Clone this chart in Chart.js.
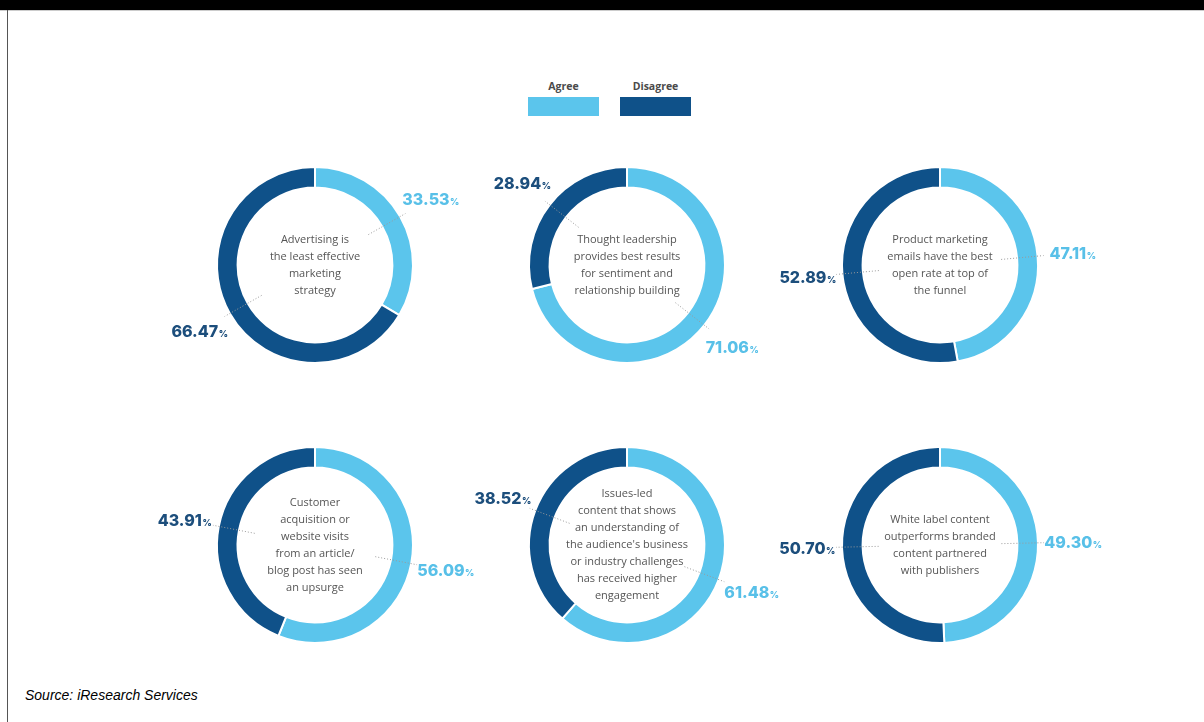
<!DOCTYPE html>
<html>
<head>
<meta charset="utf-8">
<script src="https://cdn.jsdelivr.net/npm/chart.js@4/dist/chart.umd.min.js"></script>
<style>
  body { margin:0; background:#fff; width:1204px; height:722px; position:relative; overflow:hidden; font-family:"Open Sans", sans-serif; }
  #topbar { position:absolute; left:0; top:0; width:1204px; height:10px; background:#000; border-bottom:1px solid #ccc; }
  #leftline { position:absolute; left:7px; top:10px; width:1px; height:712px; background:#555; }
  .legend { position:absolute; top:79px; font-size:10.5px; font-weight:700; color:#4a4a4a; text-align:center; }
  .legend .sw { width:71px; height:19px; margin-top:4px; }
  .donut { position:absolute; width:330px; height:260px; }
  #source { position:absolute; left:25px; top:687px; font-family:"Liberation Sans", Arial, sans-serif; font-style:italic; font-size:14px; color:#000; }
</style>
</head>
<body>
<div id="topbar"></div>
<div id="leftline"></div>
<div class="legend" style="left:528px"><div>Agree</div><div class="sw" style="background:#5BC5EC"></div></div>
<div class="legend" style="left:620px"><div>Disagree</div><div class="sw" style="background:#0F5189"></div></div>
<div id="charts"></div>
<div id="source">Source: iResearch Services</div>
<script>
const categories = ["Agree", "Disagree"]
const agree = [33.53, 71.06, 47.11, 56.09, 61.48, 49.30]
const disagree = [66.47, 28.94, 52.89, 43.91, 38.52, 50.70]
const statements = [
    ["Advertising is", "the least effective", "marketing", "strategy"],
    ["Thought leadership", "provides best results", "for sentiment and", "relationship building"],
    ["Product marketing", "emails have the best", "open rate at top of", "the funnel"],
    ["Customer", "acquisition or", "website visits", "from an article/", "blog post has seen", "an upsurge"],
    ["Issues-led", "content that shows", "an understanding of", "the audience's business", "or industry challenges", "has received higher", "engagement"],
    ["White label content", "outperforms branded", "content partnered", "with publishers"]
]

const colors = ["#5BC5EC", "#0F5189"]
const labelColors = ["#58C0E8", "#1C4E7C"]
const centersX = [315, 627, 940]
const centersY = [265, 545]

const labelPlugin = {
    id: "donutLabels",
    afterDatasetsDraw(chart) {
        const ctx = chart.ctx
        const meta = chart.getDatasetMeta(0)
        const values = chart.data.datasets[0].data
        ctx.save()
        meta.data.forEach((arc, i) => {
            const mid = (arc.startAngle + arc.endAngle) / 2
            const cos = Math.cos(mid), sin = Math.sin(mid)
            // dotted leader
            ctx.strokeStyle = "#9a9a9a"
            ctx.lineWidth = 1
            ctx.setLineDash([1, 2])
            ctx.beginPath()
            ctx.moveTo(arc.x + cos * (arc.innerRadius - 16), arc.y + sin * (arc.innerRadius - 16))
            ctx.lineTo(arc.x + cos * (arc.outerRadius + 6), arc.y + sin * (arc.outerRadius + 6))
            ctx.stroke()
            ctx.setLineDash([])
            // label
            const d = arc.outerRadius + 35
            const lx = arc.x + cos * d, ly = arc.y + sin * d
            const num = values[i].toFixed(2)
            ctx.font = "800 16px Inter"
            const w1 = ctx.measureText(num).width
            ctx.font = "800 9px Inter"
            const w2 = ctx.measureText("%").width
            const start = lx - (w1 + w2) / 2
            ctx.fillStyle = labelColors[i]
            ctx.textBaseline = "alphabetic"
            ctx.textAlign = "left"
            ctx.font = "800 16px Inter"
            ctx.fillText(num, start, ly + 6)
            ctx.font = "800 9px Inter"
            ctx.fillText("%", start + w1 + 0.5, ly + 6)
        })
        // center text
        const lines = chart.options.plugins.centerText.lines
        const cx = meta.data[0].x, cy = meta.data[0].y
        ctx.fillStyle = "#555"
        ctx.font = "11px 'Open Sans'"
        ctx.textAlign = "center"
        ctx.textBaseline = "middle"
        const lh = 17
        lines.forEach((t, k) => {
            ctx.fillText(t, cx, cy + (k - (lines.length - 1) / 2) * lh)
        })
        ctx.restore()
    }
}

const holder = document.getElementById("charts")
agree.forEach((a, i) => {
    const div = document.createElement("div")
    div.className = "donut"
    div.style.left = (centersX[i % 3] - 165) + "px"
    div.style.top = (centersY[Math.floor(i / 3)] - 130) + "px"
    const canvas = document.createElement("canvas")
    canvas.width = 330
    canvas.height = 260
    div.appendChild(canvas)
    holder.appendChild(div)

    new Chart(canvas.getContext("2d"), {
        type: "doughnut",
        data: {
            labels: categories,
            datasets: [{
                data: [a, disagree[i]],
                backgroundColor: colors,
                borderColor: "#fff",
                borderWidth: 2,
                hoverOffset: 0
            }]
        },
        options: {
            responsive: false,
            animation: false,
            radius: 98,
            cutout: "79%",
            events: [],
            plugins: {
                legend: { display: false },
                tooltip: { enabled: false },
                centerText: { lines: statements[i] }
            }
        },
        plugins: [labelPlugin]
    })
})
</script>
</body>
</html>
